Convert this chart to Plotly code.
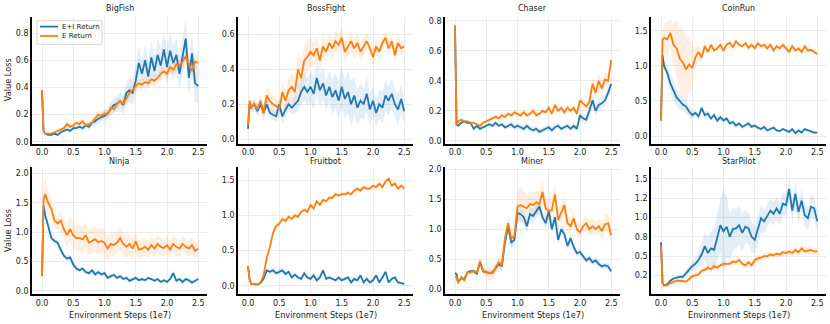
import plotly.graph_objects as go

# ---------------- data ----------------
STEPS = [0.0, 0.025] + [round(0.05 * k, 3) for k in range(1, 51)]  # environment steps (1e7)

GAMES = ["BigFish", "BossFight", "Chaser", "CoinRun", "Ninja", "Fruitbot", "Miner", "StarPilot"]
SERIES_NAMES = ["E+I Return", "E Return"]

BIGFISH_EI = [0.38, 0.08, 0.06, 0.05, 0.05, 0.06, 0.05, 0.07, 0.08, 0.09,
              0.08, 0.10, 0.10, 0.11, 0.10, 0.12, 0.11, 0.14, 0.15, 0.17,
              0.18, 0.19, 0.21, 0.24, 0.27, 0.28, 0.30, 0.27, 0.36, 0.38,
              0.36, 0.45, 0.58, 0.50, 0.60, 0.48, 0.62, 0.52, 0.64, 0.56,
              0.68, 0.55, 0.67, 0.58, 0.64, 0.50, 0.63, 0.76, 0.47, 0.65,
              0.43, 0.41]
BIGFISH_E = [0.38, 0.08, 0.06, 0.06, 0.06, 0.07, 0.08, 0.09, 0.10, 0.13,
             0.11, 0.12, 0.14, 0.13, 0.15, 0.12, 0.13, 0.14, 0.17, 0.20,
             0.19, 0.21, 0.20, 0.25, 0.24, 0.28, 0.30, 0.28, 0.32, 0.36,
             0.38, 0.41, 0.43, 0.42, 0.44, 0.43, 0.46, 0.45, 0.47, 0.50,
             0.52, 0.50, 0.55, 0.53, 0.57, 0.56, 0.59, 0.63, 0.57, 0.52,
             0.59, 0.58]
BIGFISH_EI_SD = [0.01, 0.01, 0.01, 0.01, 0.01, 0.01, 0.01, 0.01, 0.01, 0.02,
                 0.01, 0.02, 0.02, 0.02, 0.02, 0.02, 0.02, 0.03, 0.03, 0.03,
                 0.03, 0.04, 0.04, 0.05, 0.05, 0.06, 0.06, 0.07, 0.08, 0.09,
                 0.09, 0.10, 0.12, 0.10, 0.12, 0.10, 0.13, 0.11, 0.12, 0.12,
                 0.13, 0.12, 0.14, 0.12, 0.13, 0.12, 0.14, 0.15, 0.13, 0.14,
                 0.14, 0.13]
BIGFISH_E_SD = [0.01, 0.01, 0.01, 0.01, 0.01, 0.01, 0.01, 0.01, 0.01, 0.02,
                0.02, 0.02, 0.02, 0.02, 0.02, 0.02, 0.02, 0.02, 0.03, 0.03,
                0.03, 0.03, 0.03, 0.03, 0.04, 0.04, 0.03, 0.04, 0.04, 0.04,
                0.04, 0.04, 0.03, 0.04, 0.04, 0.03, 0.04, 0.04, 0.04, 0.04,
                0.04, 0.04, 0.04, 0.04, 0.05, 0.04, 0.05, 0.05, 0.05, 0.05,
                0.05, 0.05]

BOSSFIGHT_EI = [0.06, 0.20, 0.18, 0.20, 0.16, 0.20, 0.15, 0.20, 0.15, 0.14,
                0.13, 0.20, 0.13, 0.17, 0.20, 0.18, 0.20, 0.22, 0.27, 0.30,
                0.27, 0.30, 0.26, 0.35, 0.28, 0.32, 0.25, 0.30, 0.24, 0.28,
                0.22, 0.30, 0.23, 0.27, 0.20, 0.25, 0.18, 0.22, 0.20, 0.26,
                0.17, 0.22, 0.15, 0.20, 0.18, 0.25, 0.22, 0.26, 0.20, 0.17,
                0.23, 0.16]
BOSSFIGHT_E = [0.08, 0.22, 0.18, 0.20, 0.17, 0.22, 0.15, 0.25, 0.22, 0.20,
               0.19, 0.17, 0.27, 0.22, 0.28, 0.30, 0.27, 0.40, 0.35, 0.45,
               0.47, 0.50, 0.48, 0.52, 0.45, 0.53, 0.50, 0.55, 0.52, 0.56,
               0.54, 0.58, 0.50, 0.53, 0.56, 0.52, 0.55, 0.50, 0.53, 0.56,
               0.52, 0.47, 0.53, 0.50, 0.55, 0.58, 0.52, 0.56, 0.48, 0.55,
               0.52, 0.53]
BOSSFIGHT_EI_SD = [0.02, 0.03, 0.03, 0.03, 0.03, 0.03, 0.03, 0.03, 0.03, 0.03,
                   0.03, 0.04, 0.04, 0.04, 0.04, 0.04, 0.05, 0.06, 0.07, 0.08,
                   0.08, 0.09, 0.09, 0.10, 0.09, 0.09, 0.08, 0.09, 0.10, 0.10,
                   0.11, 0.12, 0.11, 0.12, 0.13, 0.11, 0.10, 0.10, 0.09, 0.10,
                   0.09, 0.08, 0.08, 0.08, 0.09, 0.09, 0.08, 0.09, 0.08, 0.09,
                   0.08, 0.07]
BOSSFIGHT_E_SD = [0.02, 0.03, 0.03, 0.03, 0.03, 0.04, 0.05, 0.05, 0.05, 0.05,
                  0.05, 0.05, 0.06, 0.06, 0.07, 0.08, 0.09, 0.10, 0.10, 0.09,
                  0.09, 0.08, 0.07, 0.07, 0.07, 0.06, 0.06, 0.06, 0.06, 0.06,
                  0.06, 0.06, 0.06, 0.06, 0.06, 0.06, 0.05, 0.05, 0.05, 0.05,
                  0.05, 0.05, 0.05, 0.05, 0.04, 0.04, 0.04, 0.04, 0.04, 0.04,
                  0.04, 0.04]

CHASER_EI = [0.77, 0.11, 0.10, 0.12, 0.13, 0.12, 0.12, 0.08, 0.10, 0.08,
             0.09, 0.10, 0.11, 0.10, 0.12, 0.10, 0.11, 0.09, 0.10, 0.11,
             0.09, 0.10, 0.09, 0.08, 0.10, 0.08, 0.07, 0.08, 0.06, 0.07,
             0.08, 0.09, 0.07, 0.09, 0.10, 0.08, 0.09, 0.10, 0.08, 0.10,
             0.08, 0.17, 0.15, 0.14, 0.20, 0.27, 0.20, 0.24, 0.25, 0.27,
             0.32, 0.38]
CHASER_E = [0.77, 0.10, 0.13, 0.14, 0.13, 0.13, 0.12, 0.12, 0.11, 0.10,
            0.12, 0.13, 0.14, 0.15, 0.16, 0.15, 0.17, 0.16, 0.18, 0.17,
            0.19, 0.18, 0.17, 0.19, 0.17, 0.18, 0.20, 0.17, 0.18, 0.20,
            0.19, 0.22, 0.18, 0.24, 0.20, 0.22, 0.19, 0.22, 0.20, 0.22,
            0.18, 0.27, 0.25, 0.23, 0.26, 0.38, 0.32, 0.40, 0.35, 0.41,
            0.40, 0.54]
CHASER_EI_SD = [0.01, 0.01, 0.01, 0.01, 0.01, 0.01, 0.01, 0.01, 0.01, 0.01,
                0.01, 0.01, 0.01, 0.01, 0.01, 0.01, 0.01, 0.02, 0.02, 0.02,
                0.02, 0.02, 0.02, 0.02, 0.02, 0.02, 0.02, 0.02, 0.02, 0.02,
                0.02, 0.02, 0.02, 0.02, 0.02, 0.02, 0.02, 0.02, 0.02, 0.02,
                0.02, 0.03, 0.03, 0.03, 0.04, 0.05, 0.04, 0.04, 0.04, 0.04,
                0.04, 0.04]
CHASER_E_SD = [0.01, 0.01, 0.01, 0.01, 0.01, 0.01, 0.01, 0.01, 0.01, 0.01,
               0.01, 0.01, 0.01, 0.01, 0.01, 0.02, 0.02, 0.02, 0.02, 0.02,
               0.02, 0.02, 0.02, 0.02, 0.02, 0.02, 0.02, 0.02, 0.02, 0.02,
               0.02, 0.02, 0.02, 0.02, 0.02, 0.02, 0.02, 0.02, 0.02, 0.02,
               0.02, 0.03, 0.03, 0.03, 0.04, 0.05, 0.05, 0.05, 0.05, 0.05,
               0.05, 0.05]

COINRUN_EI = [0.22, 1.15, 1.00, 0.90, 0.75, 0.65, 0.55, 0.50, 0.45, 0.42,
              0.35, 0.30, 0.33, 0.28, 0.40, 0.30, 0.32, 0.25, 0.30, 0.22,
              0.27, 0.22, 0.25, 0.18, 0.20, 0.15, 0.18, 0.13, 0.15, 0.18,
              0.13, 0.15, 0.12, 0.10, 0.13, 0.08, 0.10, 0.12, 0.08, 0.07,
              0.10, 0.08, 0.06, 0.10, 0.04, 0.08, 0.05, 0.10, 0.08, 0.07,
              0.05, 0.05]
COINRUN_E = [0.22, 1.37, 1.40, 1.38, 1.47, 1.30, 1.25, 1.10, 1.05, 0.95,
             1.02, 0.97, 1.12, 1.20, 1.12, 1.28, 1.20, 1.30, 1.22, 1.25,
             1.30, 1.22, 1.30, 1.33, 1.27, 1.35, 1.30, 1.28, 1.32, 1.26,
             1.30, 1.25, 1.32, 1.28, 1.30, 1.25, 1.30, 1.22, 1.28, 1.25,
             1.30, 1.25, 1.20, 1.28, 1.22, 1.25, 1.20, 1.28, 1.22, 1.23,
             1.20, 1.17]
COINRUN_EI_SD = [0.02, 0.05, 0.08, 0.10, 0.12, 0.15, 0.12, 0.12, 0.10, 0.10,
                 0.08, 0.06, 0.06, 0.05, 0.05, 0.04, 0.04, 0.04, 0.04, 0.04,
                 0.04, 0.03, 0.03, 0.03, 0.03, 0.03, 0.03, 0.03, 0.03, 0.03,
                 0.03, 0.03, 0.03, 0.02, 0.02, 0.02, 0.02, 0.02, 0.02, 0.02,
                 0.02, 0.02, 0.02, 0.02, 0.02, 0.02, 0.02, 0.02, 0.02, 0.02,
                 0.02, 0.02]
COINRUN_E_SD = [0.02, 0.15, 0.20, 0.25, 0.20, 0.30, 0.40, 0.45, 0.50, 0.45,
                0.40, 0.30, 0.15, 0.10, 0.08, 0.06, 0.06, 0.05, 0.05, 0.05,
                0.05, 0.04, 0.04, 0.04, 0.04, 0.04, 0.04, 0.04, 0.04, 0.04,
                0.04, 0.04, 0.04, 0.04, 0.04, 0.04, 0.04, 0.04, 0.04, 0.04,
                0.04, 0.04, 0.04, 0.04, 0.04, 0.04, 0.04, 0.04, 0.04, 0.04,
                0.04, 0.04]

NINJA_EI = [0.25, 1.45, 1.30, 1.10, 0.90, 0.85, 0.82, 0.70, 0.60, 0.55,
            0.57, 0.45, 0.38, 0.35, 0.38, 0.32, 0.30, 0.35, 0.28, 0.32,
            0.28, 0.30, 0.22, 0.25, 0.27, 0.22, 0.25, 0.20, 0.22, 0.17,
            0.20, 0.22, 0.18, 0.20, 0.18, 0.22, 0.20, 0.17, 0.20, 0.15,
            0.18, 0.15, 0.20, 0.30, 0.17, 0.20, 0.15, 0.20, 0.18, 0.14,
            0.17, 0.20]
NINJA_E = [0.25, 1.55, 1.65, 1.50, 1.40, 1.20, 1.15, 1.20, 1.05, 0.95,
           1.05, 0.95, 0.90, 0.90, 0.88, 0.95, 0.82, 0.85, 0.88, 0.83,
           0.85, 0.82, 0.72, 0.80, 0.78, 0.82, 0.90, 0.80, 0.75, 0.80,
           0.72, 0.85, 0.70, 0.72, 0.75, 0.70, 0.78, 0.72, 0.80, 0.75,
           0.73, 0.78, 0.70, 0.80, 0.75, 0.72, 0.80, 0.75, 0.72, 0.78,
           0.68, 0.72]
NINJA_EI_SD = [0.02, 0.10, 0.08, 0.07, 0.06, 0.05, 0.05, 0.05, 0.05, 0.05,
               0.05, 0.05, 0.04, 0.04, 0.04, 0.04, 0.04, 0.04, 0.04, 0.04,
               0.04, 0.04, 0.04, 0.04, 0.04, 0.03, 0.03, 0.03, 0.03, 0.03,
               0.03, 0.03, 0.03, 0.03, 0.03, 0.03, 0.03, 0.03, 0.03, 0.03,
               0.03, 0.03, 0.03, 0.05, 0.03, 0.03, 0.03, 0.03, 0.03, 0.03,
               0.03, 0.03]
NINJA_E_SD = [0.02, 0.25, 0.30, 0.20, 0.15, 0.12, 0.12, 0.15, 0.18, 0.20,
              0.22, 0.22, 0.22, 0.22, 0.22, 0.22, 0.22, 0.22, 0.22, 0.22,
              0.22, 0.22, 0.20, 0.20, 0.20, 0.20, 0.20, 0.20, 0.18, 0.18,
              0.18, 0.18, 0.16, 0.16, 0.15, 0.15, 0.15, 0.15, 0.15, 0.15,
              0.15, 0.15, 0.15, 0.15, 0.15, 0.14, 0.14, 0.14, 0.14, 0.14,
              0.14, 0.14]

FRUITBOT_EI = [0.28, 0.10, 0.03, 0.03, 0.02, 0.04, 0.10, 0.22, 0.20, 0.22,
               0.18, 0.20, 0.22, 0.17, 0.20, 0.12, 0.16, 0.12, 0.10, 0.18,
               0.12, 0.10, 0.15, 0.08, 0.12, 0.22, 0.10, 0.12, 0.10, 0.08,
               0.12, 0.08, 0.10, 0.12, 0.05, 0.10, 0.08, 0.15, 0.05, 0.10,
               0.05, 0.08, 0.15, 0.05, 0.12, 0.20, 0.05, 0.10, 0.12, 0.05,
               0.04, 0.03]
FRUITBOT_E = [0.28, 0.10, 0.03, 0.03, 0.02, 0.05, 0.15, 0.40, 0.55, 0.75,
              0.85, 0.88, 0.95, 0.92, 0.98, 0.95, 1.00, 0.98, 1.05, 1.08,
              1.05, 1.15, 1.10, 1.20, 1.15, 1.22, 1.20, 1.25, 1.25, 1.30,
              1.28, 1.30, 1.30, 1.32, 1.30, 1.35, 1.38, 1.35, 1.40, 1.38,
              1.38, 1.42, 1.40, 1.45, 1.40, 1.48, 1.52, 1.42, 1.45, 1.38,
              1.42, 1.38]
FRUITBOT_EI_SD = [0.01, 0.01, 0.01, 0.01, 0.01, 0.01, 0.02, 0.04, 0.04, 0.04,
                  0.04, 0.04, 0.04, 0.04, 0.03, 0.03, 0.03, 0.03, 0.03, 0.03,
                  0.03, 0.03, 0.03, 0.03, 0.03, 0.03, 0.03, 0.03, 0.03, 0.03,
                  0.03, 0.03, 0.03, 0.03, 0.03, 0.03, 0.03, 0.03, 0.03, 0.03,
                  0.03, 0.03, 0.03, 0.03, 0.03, 0.03, 0.03, 0.03, 0.03, 0.03,
                  0.02, 0.02]
FRUITBOT_E_SD = [0.01, 0.01, 0.01, 0.01, 0.01, 0.01, 0.03, 0.04, 0.05, 0.05,
                 0.04, 0.04, 0.04, 0.04, 0.03, 0.03, 0.03, 0.03, 0.03, 0.03,
                 0.03, 0.03, 0.03, 0.03, 0.03, 0.03, 0.03, 0.03, 0.03, 0.03,
                 0.03, 0.03, 0.03, 0.03, 0.03, 0.03, 0.03, 0.03, 0.03, 0.03,
                 0.03, 0.03, 0.03, 0.03, 0.03, 0.03, 0.03, 0.03, 0.03, 0.03,
                 0.03, 0.03]

MINER_EI = [0.27, 0.25, 0.12, 0.18, 0.17, 0.28, 0.30, 0.30, 0.26, 0.45,
            0.30, 0.28, 0.27, 0.28, 0.35, 0.42, 0.38, 0.78, 1.05, 0.78,
            0.82, 1.27, 1.25, 1.20, 1.05, 1.25, 1.22, 1.30, 1.38, 1.20,
            1.10, 1.30, 1.00, 1.20, 0.82, 1.00, 0.92, 0.72, 0.85, 0.70,
            0.60, 0.62, 0.55, 0.48, 0.52, 0.45, 0.48, 0.42, 0.38, 0.40,
            0.38, 0.30]
MINER_E = [0.20, 0.20, 0.10, 0.20, 0.15, 0.28, 0.28, 0.30, 0.28, 0.47,
           0.30, 0.28, 0.27, 0.27, 0.35, 0.45, 0.40, 0.85, 1.10, 0.85,
           0.88, 1.38, 1.40, 1.38, 1.35, 1.42, 1.40, 1.45, 1.42, 1.62,
           1.35, 1.30, 1.32, 1.58, 1.15, 1.28, 1.40, 1.10, 1.05, 1.18,
           1.00, 0.95, 1.05, 1.10, 1.00, 1.05, 1.00, 1.05, 0.97, 1.08,
           1.10, 0.90]
MINER_EI_SD = [0.03, 0.03, 0.03, 0.03, 0.03, 0.03, 0.03, 0.03, 0.03, 0.04,
               0.04, 0.04, 0.05, 0.05, 0.06, 0.08, 0.08, 0.10, 0.12, 0.10,
               0.10, 0.12, 0.12, 0.12, 0.12, 0.12, 0.12, 0.12, 0.10, 0.10,
               0.10, 0.10, 0.10, 0.10, 0.08, 0.08, 0.08, 0.07, 0.07, 0.07,
               0.06, 0.06, 0.06, 0.05, 0.05, 0.05, 0.05, 0.05, 0.05, 0.05,
               0.05, 0.05]
MINER_E_SD = [0.03, 0.03, 0.04, 0.04, 0.04, 0.04, 0.04, 0.05, 0.05, 0.06,
              0.08, 0.10, 0.12, 0.12, 0.10, 0.10, 0.10, 0.15, 0.15, 0.15,
              0.15, 0.25, 0.30, 0.25, 0.22, 0.20, 0.20, 0.20, 0.20, 0.20,
              0.20, 0.20, 0.20, 0.20, 0.18, 0.15, 0.15, 0.15, 0.12, 0.12,
              0.12, 0.12, 0.12, 0.12, 0.12, 0.12, 0.12, 0.12, 0.15, 0.15,
              0.15, 0.15]

STARPILOT_EI = [0.68, 0.15, 0.12, 0.135, 0.18, 0.21, 0.22, 0.23, 0.23, 0.28,
                0.33, 0.37, 0.40, 0.45, 0.52, 0.63, 0.54, 0.60, 0.58, 0.75,
                0.90, 0.82, 0.88, 0.75, 0.85, 0.86, 0.90, 0.80, 0.88, 0.86,
                0.75, 0.71, 0.84, 0.99, 0.95, 1.03, 1.09, 1.05, 1.12, 1.05,
                1.18, 1.16, 1.37, 1.09, 1.31, 1.07, 1.22, 1.03, 0.99, 1.14,
                1.12, 0.95]
STARPILOT_E = [0.63, 0.15, 0.12, 0.12, 0.15, 0.17, 0.18, 0.18, 0.17, 0.17,
               0.20, 0.24, 0.25, 0.26, 0.31, 0.32, 0.35, 0.33, 0.37, 0.35,
               0.38, 0.40, 0.40, 0.40, 0.43, 0.42, 0.45, 0.40, 0.38, 0.42,
               0.38, 0.45, 0.47, 0.48, 0.50, 0.50, 0.52, 0.51, 0.53, 0.52,
               0.55, 0.54, 0.56, 0.54, 0.58, 0.55, 0.60, 0.56, 0.57, 0.58,
               0.56, 0.56]
STARPILOT_EI_SD = [0.02, 0.02, 0.02, 0.02, 0.02, 0.02, 0.02, 0.03, 0.03, 0.04,
                   0.05, 0.06, 0.08, 0.10, 0.15, 0.18, 0.20, 0.22, 0.28, 0.30,
                   0.35, 0.55, 0.40, 0.30, 0.28, 0.25, 0.25, 0.25, 0.22, 0.20,
                   0.20, 0.18, 0.18, 0.18, 0.15, 0.15, 0.15, 0.15, 0.15, 0.15,
                   0.15, 0.15, 0.15, 0.15, 0.15, 0.15, 0.15, 0.15, 0.15, 0.15,
                   0.15, 0.15]
STARPILOT_E_SD = [0.02, 0.02, 0.02, 0.02, 0.02, 0.02, 0.02, 0.02, 0.02, 0.02,
                  0.03, 0.03, 0.03, 0.03, 0.04, 0.04, 0.04, 0.04, 0.04, 0.04,
                  0.04, 0.04, 0.04, 0.04, 0.04, 0.04, 0.04, 0.04, 0.04, 0.04,
                  0.04, 0.04, 0.04, 0.04, 0.04, 0.04, 0.04, 0.04, 0.04, 0.04,
                  0.04, 0.04, 0.05, 0.05, 0.05, 0.05, 0.05, 0.05, 0.05, 0.05,
                  0.05, 0.05]

X_TICKS = [0.0, 0.5, 1.0, 1.5, 2.0, 2.5]
Y_TICKS = {
    "BigFish": [0.0, 0.2, 0.4, 0.6, 0.8],
    "BossFight": [0.0, 0.2, 0.4, 0.6],
    "Chaser": [0.0, 0.2, 0.4, 0.6, 0.8],
    "CoinRun": [0.0, 0.5, 1.0, 1.5],
    "Ninja": [0.0, 0.5, 1.0, 1.5, 2.0],
    "Fruitbot": [0.0, 0.5, 1.0, 1.5],
    "Miner": [0.0, 0.5, 1.0, 1.5, 2.0],
    "StarPilot": [0.25, 0.5, 0.75, 1.0, 1.25, 1.5],
}
STARPILOT_TICK_LABELS = ["0.2", "0.5", "0.8", "1.0", "1.2", "1.5"]

DATA = {
    "BigFish": (BIGFISH_EI, BIGFISH_EI_SD, BIGFISH_E, BIGFISH_E_SD),
    "BossFight": (BOSSFIGHT_EI, BOSSFIGHT_EI_SD, BOSSFIGHT_E, BOSSFIGHT_E_SD),
    "Chaser": (CHASER_EI, CHASER_EI_SD, CHASER_E, CHASER_E_SD),
    "CoinRun": (COINRUN_EI, COINRUN_EI_SD, COINRUN_E, COINRUN_E_SD),
    "Ninja": (NINJA_EI, NINJA_EI_SD, NINJA_E, NINJA_E_SD),
    "Fruitbot": (FRUITBOT_EI, FRUITBOT_EI_SD, FRUITBOT_E, FRUITBOT_E_SD),
    "Miner": (MINER_EI, MINER_EI_SD, MINER_E, MINER_E_SD),
    "StarPilot": (STARPILOT_EI, STARPILOT_EI_SD, STARPILOT_E, STARPILOT_E_SD),
}
for g, arrs in DATA.items():
    for a in arrs:
        assert len(a) == len(STEPS), (g, len(a))

# ---------------- layout geometry (pixels) ----------------
W, H = 830, 324
COLS_PX = [(32, 207), (238, 413), (445, 620), (651, 826)]
ROWS_PX = [(15, 144), (168, 297)]
Y_RANGES = {
    "BigFish": [-0.015, 0.92],
    "BossFight": [-0.026, 0.70],
    "Chaser": [-0.02, 0.828],
    "CoinRun": [-0.11, 1.70],
    "Ninja": [-0.062, 2.106],
    "Fruitbot": [-0.12, 1.68],
    "Miner": [-0.087, 2.03],
    "StarPilot": [0.003, 1.65],
}
X_RANGE = [-0.16, 2.64]

BLUE = "#1f77b4"
ORANGE = "#ff7f0e"
BLUE_FILL = "rgba(31,119,180,0.12)"
ORANGE_FILL = "rgba(255,127,14,0.12)"
FONT = "DejaVu Sans"
TXT = "#222222"

fig = go.Figure()
layout = {}
annotations = []
shapes = []


def px_x(p):
    return p / W


def px_y(p):
    return 1 - p / H


for i, game in enumerate(GAMES):
    r, c = divmod(i, 4)
    k = i + 1
    xa = "x" if k == 1 else f"x{k}"
    ya = "y" if k == 1 else f"y{k}"
    ei, ei_sd, e, e_sd = DATA[game]

    for vals, sd, fill in [(ei, ei_sd, BLUE_FILL), (e, e_sd, ORANGE_FILL)]:
        upper = [v + s for v, s in zip(vals, sd)]
        lower = [v - s for v, s in zip(vals, sd)]
        fig.add_trace(go.Scatter(
            x=STEPS + STEPS[::-1], y=upper + lower[::-1], fill="toself",
            fillcolor=fill, line=dict(width=0), mode="lines",
            hoverinfo="skip", showlegend=False, xaxis=xa, yaxis=ya))
    for vals, line, name in [(ei, BLUE, SERIES_NAMES[0]), (e, ORANGE, SERIES_NAMES[1])]:
        fig.add_trace(go.Scatter(
            x=STEPS, y=vals, mode="lines", name=name,
            line=dict(color=line, width=1.8),
            showlegend=False, xaxis=xa, yaxis=ya))

    x0, x1 = COLS_PX[c]
    y0, y1 = ROWS_PX[r]
    xkey = "xaxis" if k == 1 else f"xaxis{k}"
    ykey = "yaxis" if k == 1 else f"yaxis{k}"
    layout[xkey] = dict(
        domain=[px_x(x0), px_x(x1)], anchor=ya, range=X_RANGE,
        tickvals=X_TICKS, tickformat=".1f", showgrid=True, gridcolor="#ebebeb",
        gridwidth=0.8, zeroline=False, showline=True, linecolor="black",
        linewidth=1.6, ticks="", tickfont=dict(size=8, color=TXT))
    ydict = dict(
        domain=[px_y(y1), px_y(y0)], anchor=xa, range=Y_RANGES[game],
        tickvals=Y_TICKS[game], tickformat=".1f", showgrid=True, gridcolor="#ebebeb",
        gridwidth=0.8, zeroline=False, showline=True, linecolor="black",
        linewidth=1.6, ticks="", tickfont=dict(size=8, color=TXT))
    if game == "StarPilot":
        ydict["ticktext"] = STARPILOT_TICK_LABELS
    layout[ykey] = ydict

    cx = px_x((x0 + x1) / 2)
    title_y = 7 if r == 0 else 161.5
    annotations.append(dict(text=game, x=cx, y=px_y(title_y), xref="paper", yref="paper",
                            showarrow=False, xanchor="center", yanchor="middle",
                            font=dict(size=8, color=TXT)))
    if r == 1:
        annotations.append(dict(text="Environment Steps (1e7)", x=cx, y=px_y(318),
                                xref="paper", yref="paper", showarrow=False,
                                xanchor="center", yanchor="middle",
                                font=dict(size=8.2, color=TXT)))
    if c == 0:
        annotations.append(dict(text="Value Loss", x=px_x(8), y=px_y((y0 + y1) / 2),
                                xref="paper", yref="paper", showarrow=False, textangle=-90,
                                xanchor="center", yanchor="middle",
                                font=dict(size=8.2, color=TXT)))

# ---- compact legend (matplotlib-style) in the first panel ----
shapes.append(dict(type="rect", xref="paper", yref="paper",
                   x0=px_x(37), x1=px_x(102), y0=px_y(43), y1=px_y(19),
                   line=dict(color="#cccccc", width=0.8),
                   fillcolor="rgba(255,255,255,0.8)", layer="above"))
for name, color, ypx in [(SERIES_NAMES[0], BLUE, 25), (SERIES_NAMES[1], ORANGE, 34.5)]:
    shapes.append(dict(type="line", xref="paper", yref="paper",
                       x0=px_x(40), x1=px_x(58), y0=px_y(ypx), y1=px_y(ypx),
                       line=dict(color=color, width=1.8), layer="above"))
    annotations.append(dict(text=name, x=px_x(60), y=px_y(ypx), xref="paper", yref="paper",
                            showarrow=False, xanchor="left", yanchor="middle",
                            font=dict(size=7, color=TXT)))

fig.update_layout(
    width=W, height=H, margin=dict(l=0, r=0, t=0, b=0),
    paper_bgcolor="white", plot_bgcolor="white",
    font=dict(family=FONT, size=8, color=TXT),
    annotations=annotations, shapes=shapes, showlegend=False,
    **layout,
)

fig.write_html("out.html", config={"displayModeBar": False},
               post_script="document.body.style.margin='0';document.body.style.overflow='hidden';")
